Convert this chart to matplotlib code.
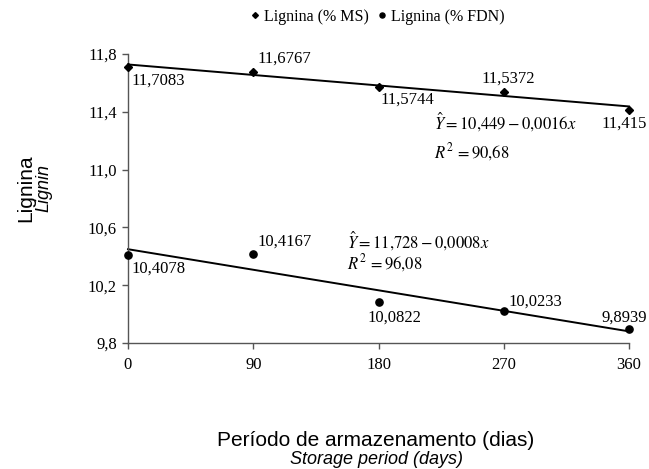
import numpy as np
import matplotlib
matplotlib.use("Agg")
import matplotlib.pyplot as plt

days = [0, 90, 180, 270, 360]
ms_values = [11.7083, 11.6767, 11.5744, 11.5372, 11.415]
fdn_values = [10.4078, 10.4167, 10.0822, 10.0233, 9.8939]
ms_labels = ["11,7083", "11,6767", "11,5744", "11,5372", "11,415"]
fdn_labels = ["10,4078", "10,4167", "10,0822", "10,0233", "9,8939"]
yticks = [9.8, 10.2, 10.6, 11.0, 11.4, 11.8]
ytick_labels = ["9,8", "10,2", "10,6", "11,0", "11,4", "11,8"]
xticks = [0, 90, 180, 270, 360]

plt.rcParams['mathtext.fontset'] = 'stix'
serif = ['Liberation Serif', 'DejaVu Serif']
sans = ['Liberation Sans', 'DejaVu Sans']
FS = 12

fig = plt.figure(figsize=(6.49, 4.69), dpi=100)
ax = fig.add_axes([128/649, 1 - 343/469, (629-128)/649, (343-54)/469])

x = np.array(days, dtype=float)
for vals in (ms_values, fdn_values):
    p = np.polyfit(x, vals, 1)
    xx = np.array([0, 360.0])
    ax.plot(xx, np.polyval(p, xx), color='black', lw=1.4, clip_on=False, zorder=2)

ax.plot(days, ms_values, linestyle='none', marker='D', ms=4.2, color='black',
        clip_on=False, zorder=3, label='Lignina (% MS)')
ax.plot(days, fdn_values, linestyle='none', marker='o', ms=5.2, color='black',
        clip_on=False, zorder=3, label='Lignina (% FDN)')

ax.set_xlim(0, 360)
ax.set_ylim(9.8, 11.8)
ax.set_xticks(xticks)
ax.set_xticklabels([str(v) for v in xticks], fontfamily=serif, fontsize=FS)
ax.set_yticks(yticks)
ax.set_yticklabels(ytick_labels, fontfamily=serif, fontsize=FS)
for s in ('top', 'right'):
    ax.spines[s].set_visible(False)
for s in ('left', 'bottom'):
    ax.spines[s].set_color('#555555')
    ax.spines[s].set_linewidth(1.0)
ax.tick_params(direction='out', length=4, width=1, color='#555555', pad=4)
ax.tick_params(axis='x', pad=6)

ms_off = [(3, -13), (4, 13), (2, -13), (-22, 13), (-28, -14)]
fdn_off = [(3, -13), (4, 12), (-11, -15), (5, 9), (-27, 12)]
for xi, yi, lab, off in zip(days, ms_values, ms_labels, ms_off):
    ax.annotate(lab, (xi, yi), xytext=off, textcoords='offset pixels',
                fontfamily=serif, fontsize=FS, ha='left', va='center')
for xi, yi, lab, off in zip(days, fdn_values, fdn_labels, fdn_off):
    ax.annotate(lab, (xi, yi), xytext=off, textcoords='offset pixels',
                fontfamily=serif, fontsize=FS, ha='left', va='center')

def ftext(px, py, s, **kw):
    fig.text(px/649, 1 - py/469, s, **kw)

ftext(434, 122, r"$\hat{Y}=10{,}449-0{,}0016x$", fontsize=12, va='center', ha='left')
ftext(434, 152, r"$R^2\,=90{,}68$", fontsize=12, va='center', ha='left')
ftext(347, 241, r"$\hat{Y}=11{,}728-0{,}0008x$", fontsize=12, va='center', ha='left')
ftext(347, 263, r"$R^2\,=96{,}08$", fontsize=12, va='center', ha='left')

ftext(26, 188, "Lignina", fontfamily=sans, fontsize=15, rotation=90, va='center', ha='center')
ftext(44, 188, "Lignin", fontfamily=sans, fontsize=13, style='italic', rotation=90, va='center', ha='center')
ftext(376, 440, "Período de armazenamento (dias)", fontfamily=sans, fontsize=15, va='center', ha='center')
ftext(376, 459, "Storage period (days)", fontfamily=sans, fontsize=13, style='italic', va='center', ha='center')

leg = fig.legend(loc='center', bbox_to_anchor=(378/649, 1 - 17/469), ncol=2, frameon=False,
                 prop={'family': serif, 'size': 11.5}, handlelength=0.5, handletextpad=0.3,
                 columnspacing=0.6, markerscale=0.7)

fig.savefig("out.png", dpi=100)
